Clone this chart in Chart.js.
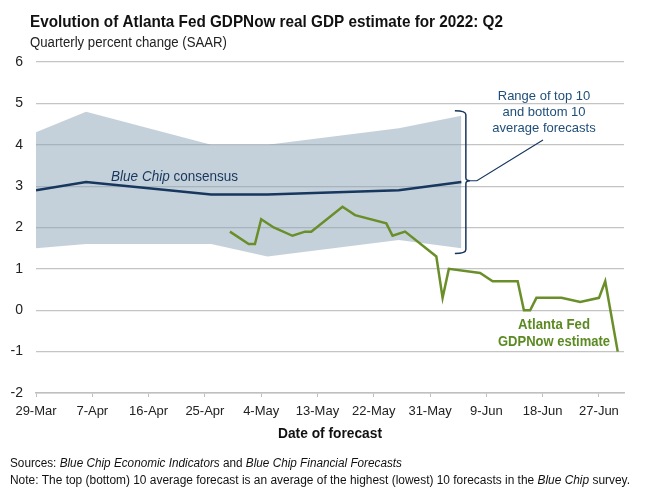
<!DOCTYPE html>
<html>
<head>
<meta charset="utf-8">
<script src="https://cdn.jsdelivr.net/npm/chart.js@4/dist/chart.umd.min.js"></script>
<style>
  html, body { margin: 0; padding: 0; background: #fff; }
  #wrap { width: 662px; height: 494px; position: relative; }
</style>
</head>
<body>
<div id="wrap"><canvas id="gdpChart" width="662" height="494"></canvas></div>
<script>
// --- Data ---
const tickLabels = ['29-Mar', '7-Apr', '16-Apr', '25-Apr', '4-May', '13-May', '22-May', '31-May', '9-Jun', '18-Jun', '27-Jun'];
const yTicks = [-2, -1, 0, 1, 2, 3, 4, 5, 6];

// Blue Chip survey dates, range band and consensus
const blueChipDates = ['29-Mar', '6-Apr', '26-Apr', '5-May', '26-May', '5-Jun'];
const bandTop = [4.3, 4.8, 4.0, 4.0, 4.4, 4.7];
const bandBottom = [1.5, 1.6, 1.6, 1.3, 1.7, 1.5];
const consensus = [2.9, 3.1, 2.8, 2.8, 2.9, 3.1];

// Atlanta Fed GDPNow estimates
const gdpNowDates = ['29-Apr', '2-May', '3-May', '4-May', '6-May', '9-May', '11-May', '12-May', '17-May', '19-May',
  '24-May', '25-May', '27-May', '1-Jun', '2-Jun', '3-Jun', '8-Jun', '10-Jun', '14-Jun', '15-Jun',
  '16-Jun', '17-Jun', '21-Jun', '24-Jun', '27-Jun', '28-Jun', '30-Jun'];
const gdpNow = [1.9, 1.6, 1.6, 2.2, 2.0, 1.8, 1.9, 1.9, 2.5, 2.3,
  2.1, 1.8, 1.9, 1.3, 0.3, 1.0, 0.9, 0.7, 0.7, 0.0,
  0.0, 0.3, 0.3, 0.2, 0.3, 0.7, -1.0];

const xEnd = '1-Jul';

// day offset from 29-Mar
const MONTHS = { Mar: 2, Apr: 3, May: 4, Jun: 5, Jul: 6 };
function toDay(label) {
    const [d, m] = label.split('-');
    const t = Date.UTC(2022, MONTHS[m], +d);
    return Math.round((t - Date.UTC(2022, 2, 29)) / 86400000);
}
const pts = (dates, vals) => dates.map((d, i) => ({ x: toDay(d), y: vals[i] }));

const NAVY = '#17375e';
const GREEN = '#6a8f2a';
const FONT = "'Liberation Sans', Arial, sans-serif";

// draws a line made of [text, fontStyle] pieces, squeezed to a width if given
function drawRich(ctx, parts, x, y, size, color, fitWidth, align) {
    ctx.save();
    ctx.fillStyle = color;
    ctx.textBaseline = 'alphabetic';
    let total = 0;
    parts.forEach(p => { ctx.font = p[1] + ' ' + size + 'px ' + FONT; total += ctx.measureText(p[0]).width; });
    const sx = fitWidth ? fitWidth / total : 1;
    let startX = x;
    if (align === 'center') startX = x - total * sx / 2;
    ctx.translate(startX, y);
    ctx.scale(sx, 1);
    let cx = 0;
    parts.forEach(p => {
        ctx.font = p[1] + ' ' + size + 'px ' + FONT;
        ctx.textAlign = 'left';
        ctx.fillText(p[0], cx, 0);
        cx += ctx.measureText(p[0]).width;
    });
    ctx.restore();
}

const annotations = {
    id: 'annotations',
    afterDatasetsDraw(chart) {
        const { ctx, scales: { x, y }, chartArea } = chart;
        // title and subtitle
        drawRich(ctx, [['Evolution of Atlanta Fed GDPNow real GDP estimate for 2022: Q2', 'bold']], 30, 27, 17, '#111', 473);
        drawRich(ctx, [['Quarterly percent change (SAAR)', 'normal']], 30, 47, 14, '#222', 197);

        // series labels
        drawRich(ctx, [['Blue Chip', 'italic'], [' consensus', 'normal']], x.getPixelForValue(toDay('10-Apr')), y.getPixelForValue(3.12), 14, NAVY, 127);
        drawRich(ctx, [['Atlanta Fed', 'bold']], 554, 329, 14, '#5b8a22', 72, 'center');
        drawRich(ctx, [['GDPNow estimate', 'bold']], 554, 346, 14, '#5b8a22', 112, 'center');

        // bracket around the range band
        const lastDay = toDay(blueChipDates[blueChipDates.length - 1]);
        const bx = x.getPixelForValue(lastDay) + 4.5;
        const bTop = y.getPixelForValue(4.82), bBot = y.getPixelForValue(1.37), bMid = y.getPixelForValue(3.13);
        ctx.save();
        ctx.strokeStyle = NAVY;
        ctx.lineWidth = 1.5;
        ctx.beginPath();
        ctx.moveTo(bx - 11, bTop);
        ctx.quadraticCurveTo(bx, bTop, bx, bTop + 4);
        ctx.lineTo(bx, bMid - 3);
        ctx.quadraticCurveTo(bx, bMid, bx + 4, bMid);
        ctx.quadraticCurveTo(bx, bMid, bx, bMid + 3);
        ctx.lineTo(bx, bBot - 4);
        ctx.quadraticCurveTo(bx, bBot, bx - 11, bBot);
        ctx.stroke();
        ctx.lineWidth = 1.2;
        ctx.beginPath();
        ctx.moveTo(bx + 3, bMid);
        ctx.lineTo(bx + 11, bMid);
        ctx.lineTo(543, 140);
        ctx.stroke();
        ctx.restore();

        const rangeText = ['Range of top 10', 'and bottom 10', 'average forecasts'];
        rangeText.forEach((t, i) => drawRich(ctx, [[t, 'normal']], 544, 100 + i * 16, 13, '#1f4e79', null, 'center'));

        // axis title and footer
        drawRich(ctx, [['Date of forecast', 'bold']], (chartArea.left + chartArea.right) / 2, 438, 14, '#111', 104, 'center');
        drawRich(ctx, [['Sources:', 'normal'], [' Blue Chip Economic Indicators', 'italic'], [' and ', 'normal'], ['Blue Chip Financial Forecasts', 'italic']],
            10, 467, 12, '#111', 392);
        drawRich(ctx, [['Note:', 'normal'], [' The top (bottom) 10 average forecast is an average of the highest (lowest) 10 forecasts in the ', 'normal'], ['Blue Chip', 'italic'], [' survey.', 'normal']],
            10, 484, 12, '#111', 620);
    }
};

new Chart(document.getElementById('gdpChart'), {
    type: 'line',
    data: {
        datasets: [
            {
                label: 'Top 10 average',
                data: pts(blueChipDates, bandTop),
                borderWidth: 0,
                pointRadius: 0,
                backgroundColor: 'rgba(139,164,181,0.5)',
                fill: '+1',
                tension: 0,
                order: 10
            },
            {
                label: 'Bottom 10 average',
                data: pts(blueChipDates, bandBottom),
                borderWidth: 0,
                pointRadius: 0,
                fill: false,
                tension: 0,
                order: 9
            },
            {
                label: 'Blue Chip consensus',
                data: pts(blueChipDates, consensus),
                borderColor: NAVY,
                borderWidth: 2.5,
                pointRadius: 0,
                fill: false,
                tension: 0,
                order: 1
            },
            {
                label: 'GDPNow',
                data: pts(gdpNowDates, gdpNow),
                borderColor: GREEN,
                borderWidth: 2.5,
                pointRadius: 0,
                fill: false,
                tension: 0,
                order: 0
            }
        ]
    },
    options: {
        responsive: false,
        animation: false,
        layout: { padding: { left: 0, right: 38, top: 62, bottom: 73 } },
        plugins: {
            legend: { display: false },
            tooltip: { enabled: false }
        },
        scales: {
            x: {
                type: 'linear',
                min: toDay(tickLabels[0]),
                max: toDay(xEnd),
                afterBuildTicks: s => { s.ticks = tickLabels.map(l => ({ value: toDay(l) })); },
                afterFit: s => { s.height = 28; },
                ticks: {
                    callback: (v, i) => tickLabels[i],
                    font: { family: FONT, size: 13 },
                    color: '#222',
                    padding: 7,
                    maxRotation: 0,
                    autoSkip: false
                },
                grid: { drawOnChartArea: false, tickLength: 4, color: '#bfbfbf', lineWidth: 1 },
                border: { display: true, color: '#bfbfbf', width: 1.5 }
            },
            y: {
                min: yTicks[0],
                max: yTicks[yTicks.length - 1],
                afterBuildTicks: s => { s.ticks = yTicks.map(v => ({ value: v })); },
                afterFit: s => { s.width = 36; },
                ticks: {
                    font: { family: FONT, size: 14 },
                    color: '#222',
                    padding: 13
                },
                grid: { color: '#c4c4c4', lineWidth: 1.2, drawTicks: false },
                border: { display: false }
            }
        }
    },
    plugins: [annotations]
});
</script>
</body>
</html>
